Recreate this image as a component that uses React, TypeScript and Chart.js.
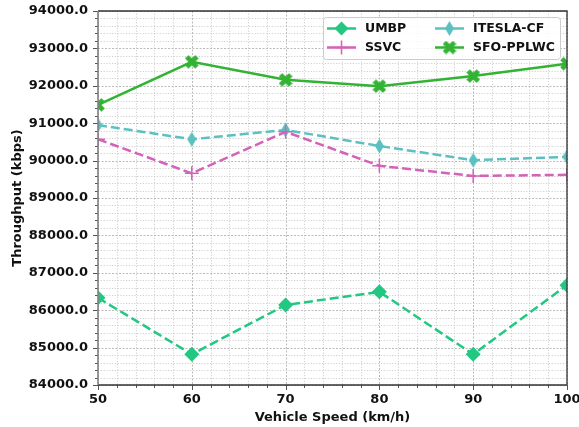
import React, { useEffect, useRef } from "react";
import { Chart, registerables } from "chart.js";

Chart.register(...registerables);

const speeds = [50, 60, 70, 80, 90, 100];
const umbp = [86330, 84820, 86140, 86490, 84820, 86670];
const ssvc = [90570, 89660, 90770, 89860, 89590, 89620];
const itesla = [90950, 90570, 90820, 90390, 90010, 90100];
const sfo = [91490, 92640, 92160, 91990, 92260, 92590];

const seriesNames = ["UMBP", "SSVC", "ITESLA-CF", "SFO-PPLWC"];
const colors = ["#22c882", "#d462b8", "#5cc0c0", "#33b233"];

const yMin = 84000;
const yMax = 94000;
const xMin = 50;
const xMax = 100;

const FONT = "DejaVu Sans";

function makeThinDiamond(color: string): HTMLCanvasElement {
  const c = document.createElement("canvas");
  c.width = 11;
  c.height = 16;
  const ctx = c.getContext("2d")!;
  ctx.fillStyle = color;
  ctx.beginPath();
  ctx.moveTo(5.5, 0.5);
  ctx.lineTo(10, 8);
  ctx.lineTo(5.5, 15.5);
  ctx.lineTo(1, 8);
  ctx.closePath();
  ctx.fill();
  return c;
}

function makeFilledX(color: string): HTMLCanvasElement {
  const c = document.createElement("canvas");
  c.width = 14;
  c.height = 14;
  const ctx = c.getContext("2d")!;
  ctx.fillStyle = color;
  ctx.translate(7, 7);
  ctx.rotate(Math.PI / 4);
  const a = 7.2;
  const w = 2.4;
  ctx.beginPath();
  ctx.moveTo(-w, -a);
  ctx.lineTo(w, -a);
  ctx.lineTo(w, -w);
  ctx.lineTo(a, -w);
  ctx.lineTo(a, w);
  ctx.lineTo(w, w);
  ctx.lineTo(w, a);
  ctx.lineTo(-w, a);
  ctx.lineTo(-w, w);
  ctx.lineTo(-a, w);
  ctx.lineTo(-a, -w);
  ctx.lineTo(-w, -w);
  ctx.closePath();
  ctx.fill();
  return c;
}

export default function App() {
  const ref = useRef<HTMLCanvasElement>(null);

  useEffect(() => {
    if (!ref.current) return;
    Chart.defaults.font.family = FONT;
    const thinDiamond = makeThinDiamond(colors[2]);
    const filledX = makeFilledX(colors[3]);
    const toPts = (arr: number[]) => speeds.map((s, i) => ({ x: s, y: arr[i] }));

    const gridPlugin = {
      id: "mplGrid",
      beforeDatasetsDraw(chart: any) {
        const { ctx, chartArea: a, scales } = chart;
        const xs = scales.x;
        const ys = scales.y;
        ctx.save();
        ctx.lineWidth = 0.8;
        for (let v = xMin; v <= xMax + 1e-9; v += 2) {
          const major = Math.abs(v % 10) < 1e-6;
          const px = Math.round(xs.getPixelForValue(v)) + 0.5;
          ctx.strokeStyle = major ? "rgba(160,160,160,0.9)" : "rgba(190,190,190,0.9)";
          ctx.setLineDash(major ? [2, 1.5] : [1.2, 1.6]);
          ctx.beginPath();
          ctx.moveTo(px, a.top);
          ctx.lineTo(px, a.bottom);
          ctx.stroke();
        }
        for (let v = yMin; v <= yMax + 1e-9; v += 200) {
          const major = Math.abs(v % 1000) < 1e-6;
          const py = Math.round(ys.getPixelForValue(v)) + 0.5;
          ctx.strokeStyle = major ? "rgba(160,160,160,0.9)" : "rgba(190,190,190,0.9)";
          ctx.setLineDash(major ? [2, 1.5] : [1.2, 1.6]);
          ctx.beginPath();
          ctx.moveTo(a.left, py);
          ctx.lineTo(a.right, py);
          ctx.stroke();
        }
        ctx.restore();
      },
      afterDatasetsDraw(chart: any) {
        const { ctx, chartArea: a, scales } = chart;
        const xs = scales.x;
        const ys = scales.y;
        ctx.save();
        ctx.setLineDash([]);
        ctx.strokeStyle = "#555";
        ctx.lineWidth = 1;
        for (let v = xMin; v <= xMax + 1e-9; v += 2) {
          const major = Math.abs(v % 10) < 1e-6;
          const px = Math.round(xs.getPixelForValue(v)) + 0.5;
          ctx.beginPath();
          ctx.moveTo(px, a.bottom);
          ctx.lineTo(px, a.bottom + (major ? 5 : 3));
          ctx.stroke();
        }
        for (let v = yMin; v <= yMax + 1e-9; v += 200) {
          const major = Math.abs(v % 1000) < 1e-6;
          const py = Math.round(ys.getPixelForValue(v)) + 0.5;
          ctx.beginPath();
          ctx.moveTo(a.left, py);
          ctx.lineTo(a.left - (major ? 5 : 3), py);
          ctx.stroke();
        }
        ctx.lineWidth = 1.3;
        ctx.strokeStyle = "#333";
        ctx.beginPath();
        ctx.moveTo(a.left, a.bottom);
        ctx.lineTo(a.right, a.bottom);
        ctx.lineTo(a.right, a.top);
        ctx.lineTo(a.left, a.top);
        ctx.stroke();
        ctx.strokeStyle = "#808080";
        ctx.lineWidth = 1.6;
        ctx.beginPath();
        ctx.moveTo(a.left, a.top);
        ctx.lineTo(a.left, a.bottom);
        ctx.stroke();
        ctx.restore();
      },
      afterDraw(chart: any) {
        const { ctx, chartArea: a } = chart;
        const w = 237;
        const h = 42;
        const bx = a.right - 7 - w;
        const by = a.top + 6;
        ctx.save();
        ctx.setLineDash([]);
        ctx.fillStyle = "rgba(255,255,255,0.85)";
        ctx.strokeStyle = "#cccccc";
        ctx.lineWidth = 1;
        ctx.beginPath();
        (ctx as any).roundRect(bx + 0.5, by + 0.5, w, h, 3);
        ctx.fill();
        ctx.stroke();
        const items = [
          { i: 0, col: 0, row: 0 },
          { i: 2, col: 1, row: 0 },
          { i: 1, col: 0, row: 1 },
          { i: 3, col: 1, row: 1 },
        ];
        ctx.font = `bold 12.5px "${FONT}"`;
        ctx.textBaseline = "middle";
        ctx.textAlign = "left";
        for (const it of items) {
          const cy = by + 11.5 + it.row * 19;
          const lx0 = bx + (it.col === 0 ? 4 : 112);
          const lx1 = lx0 + 29;
          const mx = (lx0 + lx1) / 2;
          const color = colors[it.i];
          ctx.strokeStyle = color;
          ctx.lineWidth = 2.5;
          ctx.beginPath();
          ctx.moveTo(lx0, cy);
          ctx.lineTo(lx1, cy);
          ctx.stroke();
          ctx.fillStyle = color;
          if (it.i === 0) {
            ctx.beginPath();
            ctx.moveTo(mx, cy - 7);
            ctx.lineTo(mx + 7, cy);
            ctx.lineTo(mx, cy + 7);
            ctx.lineTo(mx - 7, cy);
            ctx.closePath();
            ctx.fill();
          } else if (it.i === 1) {
            ctx.lineWidth = 1.5;
            ctx.beginPath();
            ctx.moveTo(mx, cy - 7);
            ctx.lineTo(mx, cy + 7);
            ctx.moveTo(mx - 7, cy);
            ctx.lineTo(mx + 7, cy);
            ctx.stroke();
          } else if (it.i === 2) {
            ctx.drawImage(thinDiamond, mx - thinDiamond.width / 2, cy - thinDiamond.height / 2);
          } else {
            ctx.drawImage(filledX, mx - filledX.width / 2, cy - filledX.height / 2);
          }
          ctx.fillStyle = "#111";
          ctx.fillText(seriesNames[it.i], lx1 + 9, cy + 0.5);
        }
        ctx.restore();
      },
    };

    const chart = new Chart(ref.current, {
      type: "line",
      data: {
        datasets: [
          {
            label: seriesNames[0],
            data: toPts(umbp),
            borderColor: colors[0],
            backgroundColor: colors[0],
            borderWidth: 2.5,
            borderDash: [9, 4],
            pointStyle: "rectRot",
            pointRadius: 7.5,
            pointBorderWidth: 0,
            clip: 0,
          },
          {
            label: seriesNames[1],
            data: toPts(ssvc),
            borderColor: colors[1],
            backgroundColor: colors[1],
            borderWidth: 2.5,
            borderDash: [9, 4],
            pointStyle: "cross",
            pointRadius: 7,
            pointBorderWidth: 1.5,
            clip: 0,
          },
          {
            label: seriesNames[2],
            data: toPts(itesla),
            borderColor: colors[2],
            backgroundColor: colors[2],
            borderWidth: 2.5,
            borderDash: [9, 4],
            pointStyle: thinDiamond as any,
            pointRadius: 7,
            clip: 0,
          },
          {
            label: seriesNames[3],
            data: toPts(sfo),
            borderColor: colors[3],
            backgroundColor: colors[3],
            borderWidth: 2.5,
            pointStyle: filledX as any,
            pointRadius: 7,
            clip: 0,
          },
        ],
      },
      options: {
        responsive: false,
        animation: false,
        events: [],
        layout: { padding: { left: 0, right: 12, top: 11, bottom: 0 } },
        plugins: { legend: { display: false }, tooltip: { enabled: false } },
        scales: {
          x: {
            type: "linear",
            min: xMin,
            max: xMax,
            grid: { display: false, drawTicks: false },
            border: { display: false },
            ticks: {
              stepSize: 10,
              padding: 7,
              color: "#111",
              font: { family: FONT, size: 13, weight: "bold" },
              callback: (v: any) => String(v),
            },
            title: {
              display: true,
              text: "Vehicle Speed (km/h)",
              color: "#111",
              font: { family: FONT, size: 13, weight: "bold" },
              padding: { top: 0, bottom: 2 },
            },
            afterFit: (s: any) => {
              s.height = 42;
              s.paddingLeft = 0;
              s.paddingRight = 0;
            },
          },
          y: {
            type: "linear",
            min: yMin,
            max: yMax,
            grid: { display: false, drawTicks: false },
            border: { display: false },
            ticks: {
              stepSize: 1000,
              padding: 10,
              color: "#111",
              font: { family: FONT, size: 13, weight: "bold" },
              callback: (v: any) => Number(v).toFixed(1),
            },
            title: {
              display: true,
              text: "Throughput (kbps)",
              color: "#111",
              font: { family: FONT, size: 13, weight: "bold" },
              padding: { top: 10, bottom: 0 },
            },
            afterFit: (s: any) => {
              s.width = 98;
              s.paddingTop = 0;
              s.paddingBottom = 0;
            },
          },
        },
      },
      plugins: [gridPlugin],
    } as any);
    return () => chart.destroy();
  }, []);

  return (
    <div style={{ position: "fixed", left: 0, top: 0, width: 579, height: 427, background: "#fff" }}>
      <canvas ref={ref} width={579} height={427} style={{ display: "block" }} />
    </div>
  );
}
